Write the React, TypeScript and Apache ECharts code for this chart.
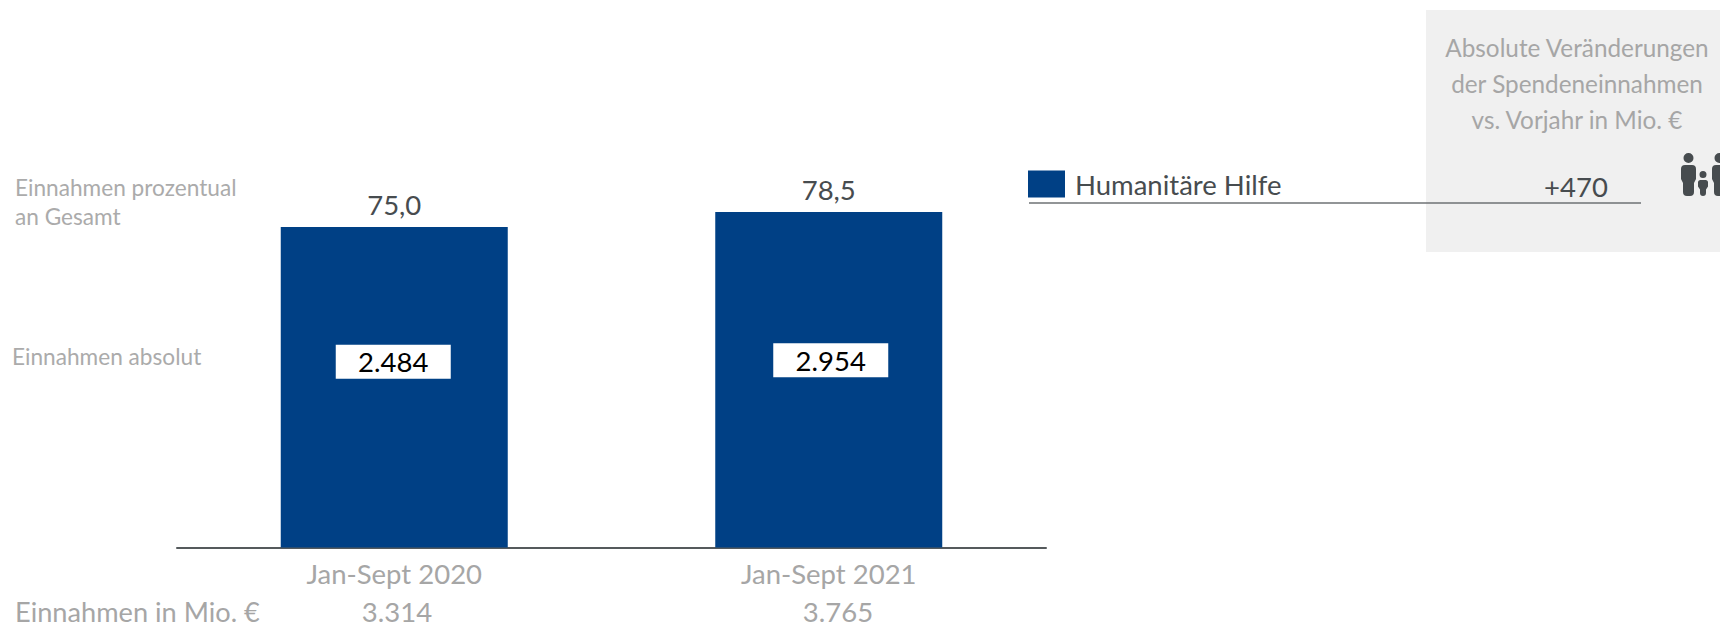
import React, { useEffect, useRef } from "react";
import * as echarts from "echarts";

const categories = ["Jan-Sept 2020", "Jan-Sept 2021"];
const shareOfTotal = [75.0, 78.5];
const shareLabels = ["75,0", "78,5"];
const absoluteLabels = ["2.484", "2.954"];
const totalLabels = ["3.314", "3.765"];
const seriesName = "Humanitäre Hilfe";
const changeTitle = ["Absolute Veränderungen", "der Spendeneinnahmen", "vs. Vorjahr in Mio. €"];
const changeValue = "+470";

const FONT = "Lato";
const GREY = "#a6a6a6";
const SIDE_GREY = "#ababab";
const DARK = "#474c4f";
const BLUE = "#004085";
const TEXT_SIZE = 27.5;

// Shift of each white box from the middle of its bar
const absoluteOffsets = [[-1, -25.5], [2, -19.5]];

// Adult / child / adult pictogram, cut off by the right edge of the page
const adult = (x: number) =>
  `M${x + 7.5} 0a5 5 0 1 1 0 10a5 5 0 1 1 0-10Z` +
  `M${x + 4} 12h7a4 4 0 0 1 4 4v10l-2 4v9a4 4 0 0 1-4 4h-3a4 4 0 0 1-4-4v-9l-2-4V16a4 4 0 0 1 4-4Z`;
const child = (x: number) =>
  `M${x + 5} 18a3.5 3.5 0 1 1 0 7a3.5 3.5 0 1 1 0-7Z` +
  `M${x + 2.5} 27h5a2.5 2.5 0 0 1 2.5 2.5v4l-2 3v3.5a3 3 0 0 1-3 3a3 3 0 0 1-3-3v-3.5l-2-3v-4a2.5 2.5 0 0 1 2.5-2.5Z`;
echarts.graphic.registerShape("family", echarts.graphic.extendPath(adult(0) + child(17) + adult(31), {}));

export default function App() {
  const ref = useRef<HTMLDivElement>(null);

  useEffect(() => {
    document.body.style.margin = "0";
    const chart = echarts.init(ref.current!, null, { renderer: "svg" });
    const sideLabel = (text: string, x: number, y: number, size = 22.65, fill = SIDE_GREY) => ({
      type: "text",
      x,
      y,
      style: { text, fill, font: `${size}px ${FONT}`, textVerticalAlign: "middle" },
    });
    const centered = (text: string, x: number, y: number, size: number, fill: string) => ({
      type: "text",
      x,
      y,
      style: { text, fill, font: `${size}px ${FONT}`, textAlign: "center", textVerticalAlign: "middle" },
    });
    chart.setOption({
      animation: false,
      backgroundColor: "#ffffff",
      textStyle: { fontFamily: FONT },
      grid: { left: 177, width: 869, top: 120, height: 427.5 },
      legend: {
        data: [seriesName],
        left: 1028,
        top: 170,
        padding: 0,
        itemWidth: 37,
        itemHeight: 27,
        itemGap: 10,
        icon: "rect",
        selectedMode: false,
        textStyle: { fontFamily: FONT, fontSize: TEXT_SIZE, color: DARK, padding: [0, 0, 0, 5] },
      },
      xAxis: {
        type: "category",
        data: categories,
        axisLine: { lineStyle: { color: "#555a5c", width: 2 } },
        axisTick: { show: false },
        axisLabel: { color: GREY, fontFamily: FONT, fontSize: TEXT_SIZE, margin: 12 },
      },
      yAxis: { type: "value", min: 0, max: 100, show: false },
      series: [
        {
          name: seriesName,
          type: "bar",
          data: shareOfTotal,
          barWidth: 227,
          itemStyle: { color: BLUE },
          label: {
            show: true,
            position: "top",
            distance: 8,
            color: DARK,
            fontFamily: FONT,
            fontSize: TEXT_SIZE,
            formatter: (p: any) => shareLabels[p.dataIndex],
          },
        },
        {
          // Transparent twin of the bars, carrying the white absolute-value boxes
          name: "Einnahmen absolut",
          type: "bar",
          data: shareOfTotal.map((value, i) => ({ value, label: { offset: absoluteOffsets[i] } })),
          barWidth: 227,
          barGap: "-100%",
          itemStyle: { color: "transparent" },
          label: {
            show: true,
            position: "inside",
            color: "#000000",
            fontFamily: FONT,
            fontSize: TEXT_SIZE,
            backgroundColor: "#ffffff",
            width: 115,
            height: 34,
            lineHeight: 34,
            align: "center",
            formatter: (p: any) => absoluteLabels[p.dataIndex],
          },
        },
      ],
      graphic: [
        { type: "rect", z: -1, shape: { x: 1426, y: 10, width: 294, height: 242 }, style: { fill: "#f0f0f0" } },
        { type: "line", z: 5, shape: { x1: 1029, y1: 203, x2: 1641, y2: 203 }, style: { stroke: "#6e7274", lineWidth: 1.5 } },
        { type: "family", z: 5, x: 1681, y: 153, style: { fill: DARK } },
        ...changeTitle.map((t, i) => centered(t, 1577, 47 + i * 36, 24.3, GREY)),
        { ...centered(changeValue, 1576, 186, TEXT_SIZE, DARK), z: 5 },
        sideLabel("Einnahmen prozentual", 15, 187),
        sideLabel("an Gesamt", 15, 216),
        sideLabel("Einnahmen absolut", 12, 356),
        sideLabel("Einnahmen in Mio. €", 15, 611.5, 27.2, GREY),
        centered(totalLabels[0], 397, 611.5, TEXT_SIZE, GREY),
        centered(totalLabels[1], 838, 611.5, TEXT_SIZE, GREY),
      ],
    });
    return () => chart.dispose();
  }, []);

  return <div ref={ref} style={{ width: 1720, height: 628 }} />;
}
